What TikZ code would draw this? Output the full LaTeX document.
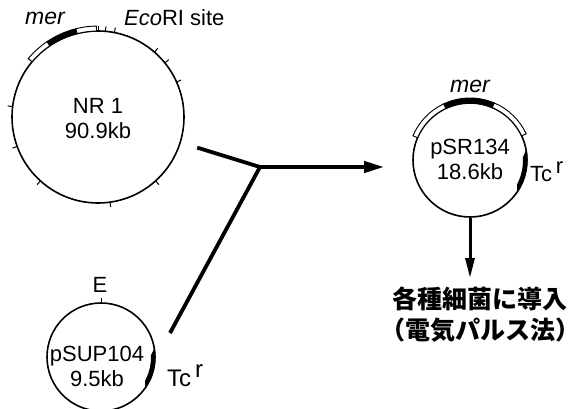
\documentclass[tikz,border=0pt]{standalone}
\usepackage{fontspec}
\setmainfont{Liberation Sans}
\newfontfamily\cjk{Noto Sans CJK JP}
\usepackage{tikz}
\usetikzlibrary{arrows.meta}
\tikzset{ring/.style={circle,draw,line width=1.6pt,inner sep=0pt},
lbl/.style={font=\fontsize{22}{25}\selectfont,align=center,inner sep=0pt},
bar/.style={line width=3.8pt},
push/.style={-{Triangle[length=20pt,width=11pt]},line width=3.8pt},
notch/.style={line width=1pt},
genebox/.style={draw,line width=0.9pt,fill=white}}
\definecolor{inkmain}{HTML}{000000}

\begin{document}
\begin{tikzpicture}[x=1pt,y=1pt,inkmain]
\useasboundingbox (0,0) rectangle (586,408);
% NR1
\node[ring,minimum size=172pt] (nr1) at (98,291) {};
\node[lbl] (nr1txt) at (98,289) {NR 1\\90.9kb};
\begin{scope}[shift={(nr1.center)}]
\foreach \a in {173,140,114,90,85,79,49,39,24,-48,-82,-132,-160} {
 \draw[notch] (\a:86) -- (\a:91);
}
\draw[genebox] (140:86) arc[start angle=140,end angle=124,radius=86] -- (124:91) arc[start angle=124,end angle=140,radius=91] -- cycle;
\draw[genebox,fill=inkmain] (124:86) arc[start angle=124,end angle=104,radius=86] -- (104:91) arc[start angle=104,end angle=124,radius=91] -- cycle;
\draw[genebox] (104:86) arc[start angle=104,end angle=91,radius=86] -- (91:91) arc[start angle=91,end angle=104,radius=91] -- cycle;
\end{scope}
\node[lbl,font=\fontsize{23}{25}\selectfont\itshape] (nr1mer) at (45,390) {mer};
\node[lbl,anchor=west] (ecori) at (124,390) {\textit{Eco}RI site};
% pSR134
\node[ring,minimum size=114pt] (psr) at (470,248) {};
\node[lbl] (psrtxt) at (470,249) {pSR134\\18.6kb};
\begin{scope}[shift={(psr.center)}]
\draw[genebox] (157:57) arc[start angle=157,end angle=115,radius=57] -- (115:62) arc[start angle=115,end angle=157,radius=62] -- cycle;
\draw[genebox,fill=inkmain] (115:57) arc[start angle=115,end angle=67,radius=57] -- (67:62) arc[start angle=67,end angle=115,radius=62] -- cycle;
\draw[genebox] (67:57) arc[start angle=67,end angle=25,radius=57] -- (25:62) arc[start angle=25,end angle=67,radius=62] -- cycle;
\fill (11:57.5) arc[start angle=11,end angle=-35,radius=57.5] -- (-27:53) arc[start angle=-27,end angle=3,radius=53] -- cycle;
\end{scope}
\node[lbl,font=\fontsize{23}{25}\selectfont\itshape] (psrmer) at (470,322) {mer};
\node[lbl,anchor=west] (psrtc) at (530,236) {Tc\,\raisebox{8pt}{r}};
% pSUP104
\node[ring,minimum size=108pt] (psup) at (101,51) {};
\node[lbl] (psuptxt) at (97,42) {pSUP104\\9.5kb};
\begin{scope}[shift={(psup.center)}]
\draw[notch] (90:54) -- (90:59);
\fill (10:54.5) arc[start angle=10,end angle=-36,radius=54.5] -- (-28:50) arc[start angle=-28,end angle=2,radius=50] -- cycle;
\end{scope}
\node[lbl] (psupe) at (100,123) {E};
\node[lbl,anchor=west,font=\fontsize{24}{26}\selectfont] (psuptc) at (167,32) {Tc\,\raisebox{9pt}{r}};
% connectors
\coordinate (join) at (260,241);
\coordinate (tail) at (170,75);
\draw[bar,shorten <=17pt,line join=miter] (nr1) -- (join) -- (tail);
\draw[push,shorten >=28pt] (join) -- (join -| psr.west);
\node[font=\cjk\bfseries\fontsize{25}{31}\selectfont,align=center,inner sep=0pt] (intro) at (480,93) {各種細菌に導入\\（電気パルス法）};
\draw[push,line width=3pt,-{Triangle[length=20pt,width=9pt]}] (psr.south) -- (psr.south |- 0,130);
\end{tikzpicture}
\end{document}
